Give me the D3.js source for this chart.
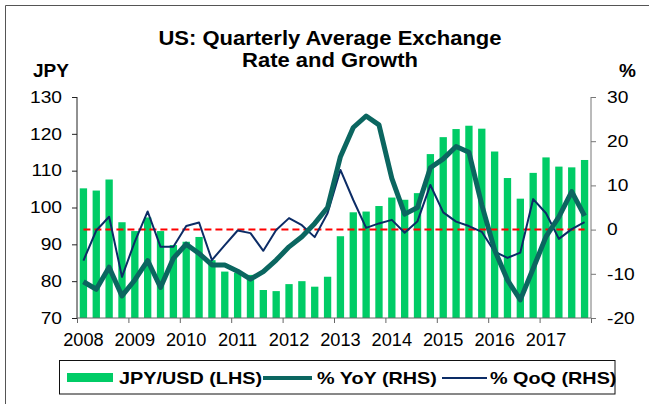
<!DOCTYPE html>
<html><head><meta charset="utf-8">
<script src="https://cdn.jsdelivr.net/npm/d3@7"></script>
<style>
html,body{margin:0;padding:0;background:#fff;}
svg{display:block;font-family:"Liberation Sans",Arial,sans-serif;}
</style></head>
<body>
<svg id="c" width="649" height="404"></svg>
<script>
// ---- data ----
const years = ["2008","2009","2010","2011","2012","2013","2014","2015","2016","2017"];
const quarters = d3.range(40); // 2008Q1 .. 2017Q4
const jpyUsd = [105.2,104.6,107.6,96.0, 93.6,97.3,93.6,89.8, 90.7,92.0,85.7,82.6,
  82.3,81.7,77.6,77.3, 79.2,80.0,78.5,81.2, 92.2,98.7,98.9,100.4,
  102.7,102.1,103.9,114.5, 119.1,121.3,122.2,121.4, 115.2,108.0,102.4,109.4,
  113.6,111.1,110.9,112.9];
const yoy = [-11.8,-13.5,-8.5,-15.0, -11.4,-7.0,-13.1,-6.5, -3.3,-5.4,-8.0,-8.0,
  -9.4,-11.2,-9.5,-6.9, -3.9,-1.6,1.4,5.0, 16.5,23.1,25.7,23.7,
  11.6,3.5,5.0,14.0, 16.0,18.8,17.5,5.6, -4.6,-11.4,-15.9,-8.8,
  -1.6,2.9,8.6,3.1];
const qoq = [-7.0,-0.2,2.9,-10.7, -2.7,4.1,-3.9,-3.9, 0.8,1.6,-6.9,-3.5,
  -0.2,-0.8,-4.8,-0.1, 2.6,1.0,-1.7,3.7, 13.5,6.7,0.4,1.4,
  2.2,-0.7,1.9,10.1, 3.9,1.8,0.8,-0.5, -5.0,-6.4,-5.2,6.9,
  3.7,-2.1,0.1,1.7];
const leftTicks = [70,80,90,100,110,120,130];
const rightTicks = [-20,-10,0,10,20,30];
const titleLines = ["US: Quarterly Average Exchange","Rate and Growth"];
const legendLabels = ["JPY/USD (LHS)","% YoY (RHS)","% QoQ (RHS)"];

// ---- layout ----
const svg = d3.select("#c");
const L = 77, R = 591, T = 97, B = 318;
const x = d3.scaleBand().domain(quarters).range([L,R]).paddingInner(0.43).paddingOuter(0.215);
const yL = d3.scaleLinear().domain([70,130]).range([B,T]);
const yR = d3.scaleLinear().domain([-20,30]).range([B,T]);
const cx = i => x(i) + x.bandwidth()/2;

const GREEN = "#00cc66", TEAL = "#0b6660", NAVY = "#0c2c66";

function stext(g, str, px, py, opts){
  const t = g.append("text")
    .attr("transform", `translate(${px},${py}) scale(${opts.sx||1},1)`)
    .attr("text-anchor", opts.anchor||"start")
    .attr("font-size", opts.size)
    .attr("font-weight", opts.bold ? "bold" : "normal")
    .attr("fill", "#000")
    .text(str);
  if (opts.dy) t.attr("dy", opts.dy);
  return t;
}

// outer frame
svg.append("path").attr("d","M5.5,404 V5.5 H649").attr("fill","none").attr("stroke","#555").attr("stroke-width",1);

// title
titleLines.forEach((s,i)=> stext(svg, s, 330, 45 + i*22, {anchor:"middle", size:20, bold:true, sx:1.1}));
stext(svg, "JPY", 33, 77, {size:19, bold:true});
stext(svg, "%", 619, 77, {size:19, bold:true});

// bars
svg.append("g").selectAll("rect").data(quarters).join("rect")
  .attr("x", i => x(i)).attr("width", x.bandwidth())
  .attr("y", i => yL(jpyUsd[i])).attr("height", i => yL(70) - yL(jpyUsd[i]))
  .attr("fill", GREEN);

// zero line (RHS)
svg.append("line")
  .attr("x1", cx(0)).attr("x2", cx(39))
  .attr("y1", yR(0)).attr("y2", yR(0))
  .attr("stroke", "#ff0000").attr("stroke-width", 2).attr("stroke-dasharray","7,4");

// lines
const lineGen = arr => d3.line().x(i => cx(i)).y(i => yR(arr[i]))(quarters);
svg.append("path").attr("d", lineGen(qoq)).attr("fill","none").attr("stroke",NAVY).attr("stroke-width",2).attr("stroke-linejoin","round");
svg.append("path").attr("d", lineGen(yoy)).attr("fill","none").attr("stroke",TEAL).attr("stroke-width",5).attr("stroke-linejoin","round");

// axes
const axL = svg.append("g").attr("transform",`translate(${L},0)`)
  .call(d3.axisLeft(yL).tickValues(leftTicks).tickSize(5).tickFormat(""));
axL.selectAll("path,line").attr("stroke","#222");
const axR = svg.append("g").attr("transform",`translate(${R},0)`)
  .call(d3.axisRight(yR).tickValues(rightTicks).tickSize(5).tickFormat(""));
axR.selectAll("path,line").attr("stroke","#777");
const xYears = d3.scaleLinear().domain([0,10]).range([L,R]);
const axB = svg.append("g").attr("transform",`translate(0,${B})`)
  .call(d3.axisBottom(xYears).tickValues(d3.range(11)).tickSize(5).tickFormat(""));
axB.selectAll("path,line").attr("stroke","#666");
axB.select("path.domain").attr("d", `M${L},0H${R}`);
axL.select("path.domain").attr("d", `M0,${T}V${B}`);
axR.select("path.domain").attr("d", `M0,${T}V${B}`);

leftTicks.forEach(v => stext(svg, String(v), 62, yL(v), {anchor:"end", size:16, sx:1.2, dy:"0.36em"}));
rightTicks.forEach(v => stext(svg, String(v), 607, yR(v), {anchor:"start", size:16, sx:1.2, dy:"0.36em"}));
years.forEach((s,k) => stext(svg, s, cx(k*4), 346, {anchor:"middle", size:17.5, sx:1.04}));

// legend
const lg = svg.append("g");
lg.append("rect").attr("x",59.5).attr("y",360.5).attr("width",555.5).attr("height",33.5)
  .attr("fill","#fff").attr("stroke","#111").attr("stroke-width",1);
lg.append("rect").attr("x",67).attr("y",373).attr("width",46).attr("height",9).attr("fill",GREEN);
stext(lg, legendLabels[0], 119, 383.5, {size:16.5, bold:true, sx:1.2});
lg.append("line").attr("x1",263).attr("x2",312).attr("y1",378).attr("y2",378).attr("stroke",TEAL).attr("stroke-width",4);
stext(lg, legendLabels[1], 317, 383.5, {size:16.5, bold:true, sx:1.2});
lg.append("line").attr("x1",442).attr("x2",487).attr("y1",378).attr("y2",378).attr("stroke",NAVY).attr("stroke-width",2);
stext(lg, legendLabels[2], 490, 383.5, {size:16.5, bold:true, sx:1.2});
</script>
</body></html>
